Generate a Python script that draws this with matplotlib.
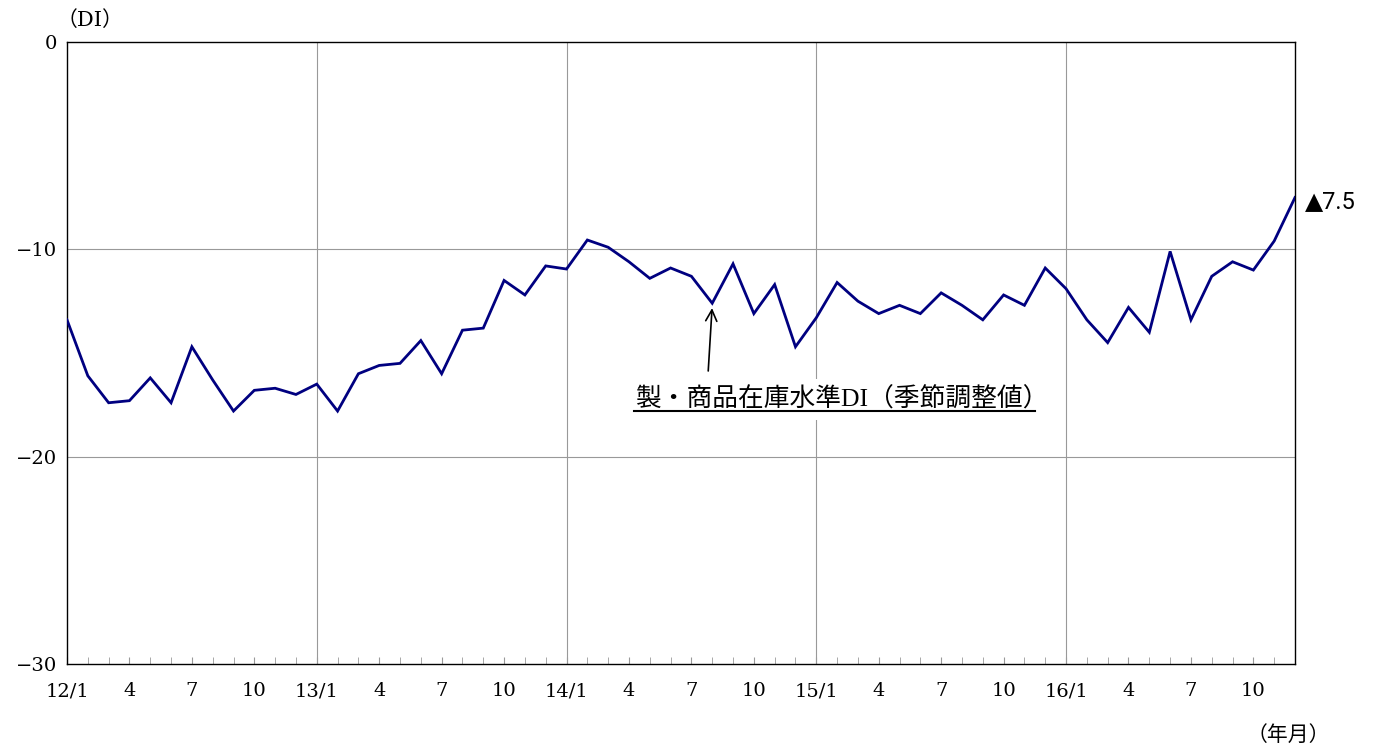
import matplotlib
matplotlib.use("Agg")
import matplotlib.pyplot as plt
import numpy as np

# Monthly data Jan 2012 - Dec 2016
values = [
    -13.4, -16.1, -17.4, -17.3, -16.2, -17.4, -14.7, -16.3, -17.8, -16.8, -16.7, -17.0,
    -16.5, -17.8, -16.0, -15.6, -15.5, -14.4, -16.0, -13.9, -13.8, -11.5, -12.2, -10.8,
    -10.95, -9.55, -9.9, -10.6, -11.4, -10.9, -11.3, -12.6, -10.7, -13.1, -11.7, -14.7,
    -13.3, -11.6, -12.5, -13.1, -12.7, -13.1, -12.1, -12.7, -13.4, -12.2, -12.7, -10.9,
    -11.9, -13.4, -14.5, -12.8, -14.0, -10.1, -13.4, -11.3, -10.6, -11.0, -9.6, -7.5,
]
tick_labels = ["12/1", "4", "7", "10", "13/1", "4", "7", "10", "14/1", "4", "7", "10",
               "15/1", "4", "7", "10", "16/1", "4", "7", "10"]
y_ticks = [0, -10, -20, -30]
y_tick_labels = ["0", "\u221210", "\u221220", "\u221230"]
series_label = "製・商品在庫水準DI（季節調整値）"
last_label = "▲7.5"

serif = ["DejaVu Serif", "Noto Sans CJK JP"]
serif2 = ["Liberation Serif", "Noto Sans CJK JP"]
W, H = 1375, 749
fig = plt.figure(figsize=(W / 100, H / 100), dpi=100)
ax = fig.add_axes([67 / W, 1 - 664 / H, (1295 - 67) / W, (664 - 42) / H])

x = np.arange(len(values))
ax.plot(x, values, color="#000080", lw=2.0, zorder=3, solid_joinstyle="miter")

ax.set_xlim(0, len(values) - 1)
ax.set_ylim(-30, 0)

ax.set_yticks(y_ticks)
ax.set_yticklabels(y_tick_labels, fontfamily=serif, fontsize=14)
ax.tick_params(axis="y", length=0, pad=7)

major = np.arange(0, len(values), 3)
ax.set_xticks(major)
ax.set_xticklabels(tick_labels, fontfamily=serif, fontsize=14)
ax.set_xticks(x, minor=True)
ax.tick_params(axis="x", which="both", direction="in", length=5, color="#999999", pad=13)

# gridlines
ax.grid(False)
for yv in [-10, -20]:
    ax.axhline(yv, color="#999999", lw=0.8, zorder=1)
for xv in [12, 24, 36, 48]:
    ax.axvline(xv, color="#999999", lw=0.8, zorder=1)

for s in ax.spines.values():
    s.set_color("black")
    s.set_linewidth(1.0)

# annotation
ax.annotate("", xy=(31, values[31] - 0.1), xytext=(30.8, -16.0),
            arrowprops=dict(arrowstyle="->", color="black", lw=1.2, mutation_scale=20), zorder=4)
ax.text(27.3, -17.25, series_label, fontfamily=serif2, fontsize=18.5,
        ha="left", va="center", zorder=5,
        bbox=dict(facecolor="white", edgecolor="none", pad=6))
ax.plot([27.25, 46.5], [-17.8, -17.8], color="black", lw=1.5, zorder=6, clip_on=False)

fig.text(1305 / W, 1 - 202 / H, last_label, fontfamily=["Roboto", "DejaVu Sans"], fontsize=17,
         ha="left", va="center")
fig.text(90 / W, 1 - 20 / H, "（DI）", fontfamily=serif, fontsize=15, ha="center", va="center")
fig.text(1288 / W, 1 - 735 / H, "（年月）", fontfamily=serif, fontsize=15, ha="center", va="center")

fig.savefig("out.png", dpi=100, facecolor="white")
